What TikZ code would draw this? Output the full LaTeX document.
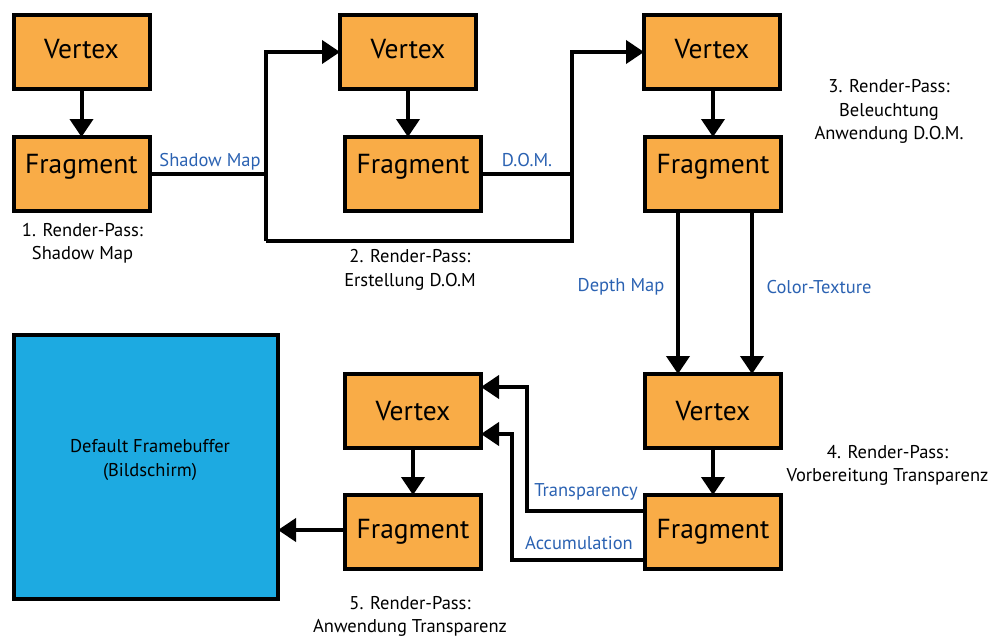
\documentclass[tikz,border=0pt]{standalone}
\usepackage{fontspec}
\setmainfont{PT Sans}
\usetikzlibrary{arrows.meta}
\definecolor{boxorange}{HTML}{F9AC47}
\definecolor{fbblue}{HTML}{1DAAE1}
\definecolor{lblblue}{HTML}{2B62B2}
\tikzset{
  shader/.style={draw=black, line width=4pt, fill=boxorange, minimum width=136pt, minimum height=74pt, inner sep=0pt, font=\fontsize{27.5}{30}\selectfont, text height=19pt, text depth=0pt},
  fbbox/.style={draw=black, line width=4pt, fill=fbblue, minimum width=264pt, minimum height=264pt, inner sep=0pt},
  passlbl/.style={align=center, font=\fontsize{18.5}{23.5}\selectfont, inner sep=0pt},
  datalbl/.style={text=lblblue, font=\fontsize{18.5}{20}\selectfont, inner sep=0pt},
  conn/.style={line width=4pt, draw=black},
  arr/.style={conn, -{Triangle[length=18pt,width=23pt]}, shorten >=-2pt},
}
\begin{document}
\begin{tikzpicture}[x=1pt,y=-1pt]
\useasboundingbox (0,0) rectangle (995,637);
% boxes
\node[shader, text depth=7pt] (V1) at (81.5,52) {Vertex\hspace{14pt}};
\node[shader, text depth=20pt] (F1) at (81.5,174) {Fragment};
\node[shader, text depth=7pt] (V2) at (408,52) {Vertex\hspace{6pt}};
\node[shader, text depth=20pt] (F2) at (413,174) {Fragment};
\node[shader, text depth=7pt] (V3) at (712,52) {Vertex\hspace{10pt}};
\node[shader, text depth=20pt] (F3) at (713,174) {Fragment};
\node[shader] (V4) at (713,411) {Vertex\hspace{14pt}};
\node[shader, text depth=7pt] (F4) at (713,532) {Fragment};
\node[shader] (V5) at (413,411) {Vertex\hspace{16pt}};
\node[shader, text depth=7pt] (F5) at (413,532) {Fragment};
\node[fbbox] (FB) at (146,467) {};
\node[passlbl] (fbtext) at (150,460) {Default Framebuffer\\(Bildschirm)};
% junction coordinates
\coordinate (c1t) at (266,52);
\coordinate (c1b) at (266,241);
\coordinate (c2t) at (572,52);
\coordinate (c2b) at (572,241);
\coordinate (t1) at (527,511);
\coordinate (t2) at (527,387);
\coordinate (a1) at (512,560);
\coordinate (a2) at (512,434);
% connectors
\draw[arr] (V1) -- (F1);
\draw[arr] (V2.south -| F2.north) ++(-5,0) -- ([xshift=-5pt]F2.north);
\draw[arr] (V3.south -| F3.north) -- (F3.north);
\draw[conn] (F1.east) -- (F1.east -| c1t);
\draw[arr] (c1b) -- (c1t) -- (V2.west);
\draw[conn] (F2.east) -- (F2.east -| c2t);
\draw[arr] (c1b) -- (c2b) -- (c2t) -- (V3.west);
\draw[arr] ([xshift=-35pt]F3.south) -- ([xshift=-35pt]V4.north);
\draw[arr] ([xshift=39pt]F3.south) -- ([xshift=39pt]V4.north);
\draw[arr] (V4) -- (F4);
\draw[arr] (V5) -- (F5);
\draw[arr] ([yshift=21pt]F4.west) -- (t1) -- (t2) -- ([yshift=24pt]V5.east);
\draw[arr] ([yshift=-28pt]F4.west) -- (a1) -- (a2) -- ([yshift=-23pt]V5.east);
\draw[arr] ([yshift=2pt]F5.west) -- ([yshift=2pt]F5.west -| FB.east);
% data labels
\node[datalbl] (lsm) at (210,162) {Shadow Map};
\node[datalbl] (ldom) at (527,160) {D.O.M.};
\node[datalbl] (ldm) at (621,287) {Depth Map};
\node[datalbl] (lct) at (819,287) {Color-Texture};
\node[datalbl] (ltr) at (586,492) {Transparency};
\node[datalbl] (lac) at (579,543) {Accumulation};
% pass labels
\node[passlbl] (p1) at (82.5,243.5) {1. Render-Pass:\\Shadow Map};
\node[passlbl] (p2) at (410,270) {2. Render-Pass:\\Erstellung D.O.M};
\node[passlbl] (p3) at (889,111.5) {3. Render-Pass:\\Beleuchtung\\Anwendung D.O.M.};
\node[passlbl] (p4) at (887.5,465.5) {4. Render-Pass:\\Vorbereitung Transparenz};
\node[passlbl] (p5) at (410,616.5) {5. Render-Pass:\\Anwendung Transparenz};
\end{tikzpicture}
\end{document}
